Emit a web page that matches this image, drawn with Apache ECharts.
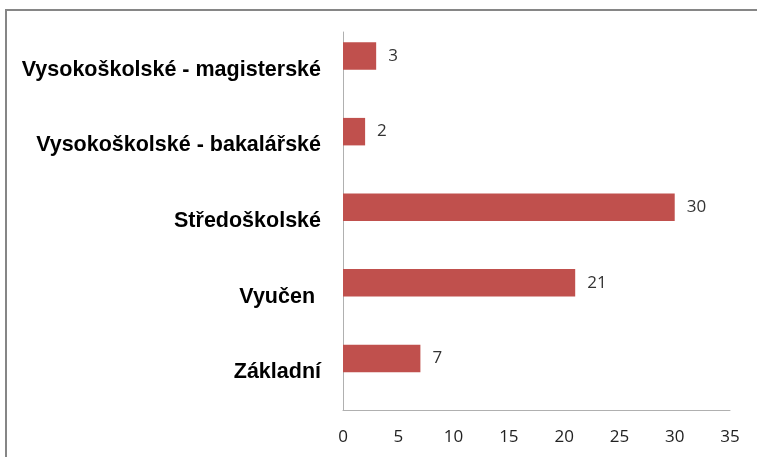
<!DOCTYPE html>
<html><head><meta charset="utf-8">
<script src="https://cdn.jsdelivr.net/npm/echarts@6/dist/echarts.min.js"></script>
<style>html,body{margin:0;padding:0;background:#fff}#c{width:757px;height:457px}</style>
</head><body><div id="c"></div>
<script>
var categories = ['Základní', 'Vyučen ', 'Středoškolské', 'Vysokoškolské - bakalářské', 'Vysokoškolské - magisterské'];
var values = [7, 21, 30, 2, 3];
var emptySeries = [null, null, null, null, null];
var xTicks = [0, 35, 5];

var chart = echarts.init(document.getElementById('c'), null, {renderer: 'canvas'});
chart.setOption({
  animation: false,
  backgroundColor: '#fff',
  graphic: [{
    type: 'rect', shape: {x: 6, y: 10, width: 800, height: 500},
    style: {fill: 'none', stroke: '#868686', lineWidth: 2}, silent: true, z: -1
  }],
  grid: {left: 343, right: 27, top: 32, bottom: 47},
  xAxis: {
    type: 'value', min: xTicks[0], max: xTicks[1], interval: xTicks[2],
    axisLine: {show: true, lineStyle: {color: '#b0b0b0', width: 1}},
    axisTick: {show: false},
    splitLine: {show: false},
    axisLabel: {color: '#222', fontSize: 17, fontFamily: 'Open Sans, sans-serif', margin: 19}
  },
  yAxis: {
    type: 'category', data: categories,
    axisLine: {show: true, lineStyle: {color: '#b0b0b0', width: 1}},
    axisTick: {show: false},
    axisLabel: {color: '#000', fontSize: 21.5, fontWeight: 'bold', fontFamily: 'Liberation Sans, Arial, sans-serif', margin: 22}
  },
  series: [{
    type: 'bar', data: values, barWidth: 27.5, barGap: '0%',
    itemStyle: {color: '#c0504d'},
    label: {show: true, position: 'right', distance: 12, color: '#333', fontSize: 17, fontFamily: 'Open Sans, sans-serif', padding: [3, 0, 0, 0]}
  }, {
    type: 'bar', data: emptySeries, barWidth: 27.5, barGap: '0%',
    itemStyle: {color: '#4f81bd'}
  }]
});
</script></body></html>
